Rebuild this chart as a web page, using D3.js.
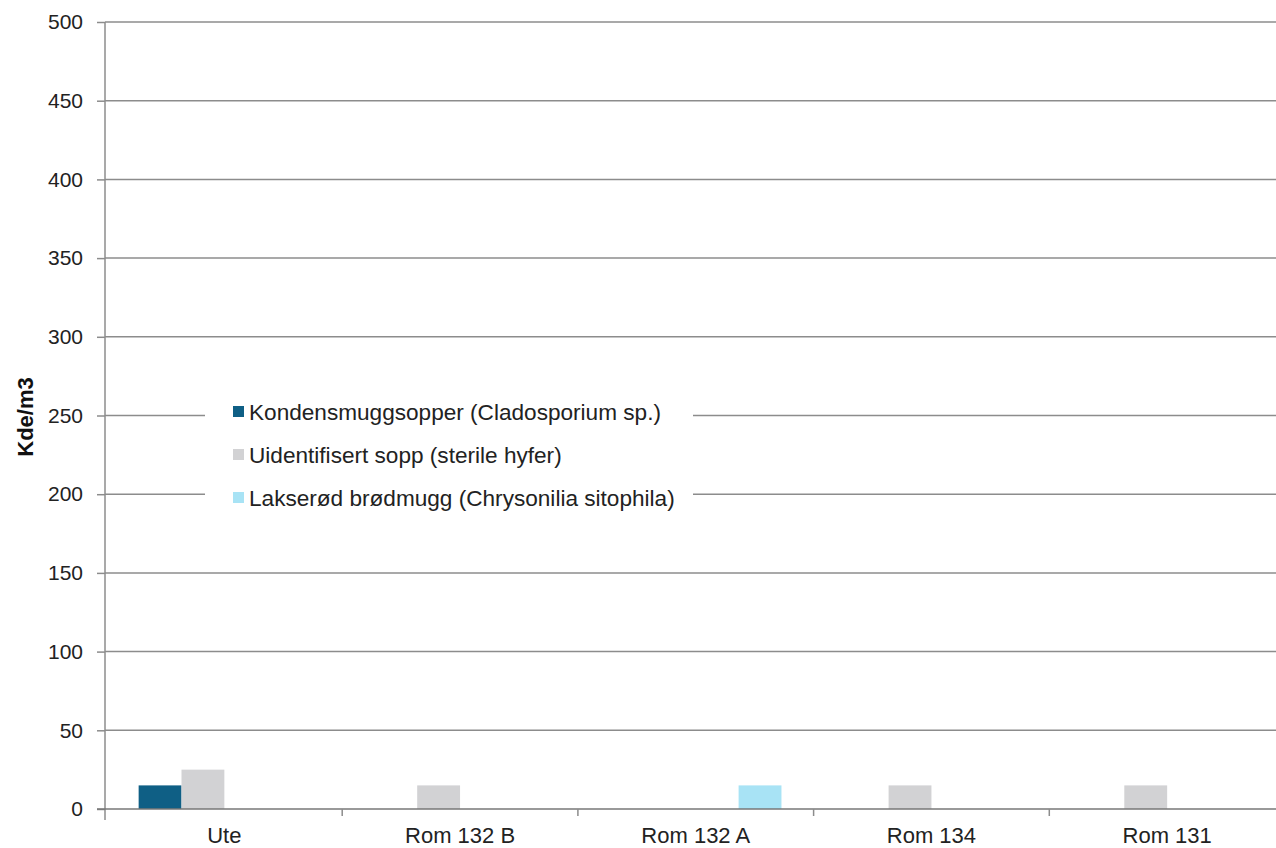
<!DOCTYPE html>
<html><head><meta charset="utf-8">
<script src="https://cdn.jsdelivr.net/npm/d3@7"></script>
<style>html,body{margin:0;padding:0;background:#fff;}svg{display:block;}</style>
</head><body>
<svg id="chart" width="1276" height="848"></svg>
<script>
const categories = ["Ute", "Rom 132 B", "Rom 132 A", "Rom 134", "Rom 131"];
const seriesNames = ["Kondensmuggsopper (Cladosporium sp.)", "Uidentifisert sopp (sterile hyfer)", "", "Lakserød brødmugg (Chrysonilia sitophila)"];
const seriesColors = ["#0f5f85", "#d2d2d4", "#bbbbbb", "#a8e3f5"];
const kondensValues = [15, 0, 0, 0, 0];
const uidentValues = [25, 15, 0, 15, 15];
const blankValues = [null, null, null, null, null];
const lakserodValues = [0, 0, 15, 0, 0];
const yTicks = [0, 50, 100, 150, 200, 250, 300, 350, 400, 450, 500];
const yLabel = "Kde/m3";

(function () {
const seriesValues = [kondensValues, uidentValues, blankValues, lakserodValues];
const svg = d3.select("#chart");
const font = "'Liberation Sans', Arial, sans-serif";

const pLeft = 105, pRight = 1285, pTop = 22, pBottom = 809;
const y = d3.scaleLinear().domain([0, 500]).range([pBottom, pTop]);
const x0 = d3.scaleBand().domain(categories).range([pLeft + 1.5, pRight]).paddingInner(0).paddingOuter(0);
// Excel-like gap: 4 series, gap width 150%
const bw = x0.bandwidth() / (seriesValues.length + 1.5);
const x1 = d3.scaleBand().domain(d3.range(seriesValues.length))
  .range([0, bw * seriesValues.length]).padding(0);
const groupOffset = (x0.bandwidth() - bw * seriesValues.length) / 2;

// gridlines
svg.append("g").selectAll("line").data(yTicks.filter(d => d > 0)).join("line")
  .attr("x1", pLeft).attr("x2", 1276)
  .attr("y1", d => y(d)).attr("y2", d => y(d))
  .attr("stroke", "#8c8c8c").attr("stroke-width", 1.5);

// y axis
const yAxis = d3.axisLeft(y).tickValues(yTicks).tickSize(8).tickPadding(14);
const gy = svg.append("g").attr("transform", `translate(${pLeft},0)`).call(yAxis);
gy.select(".domain").remove();
gy.selectAll(".tick line").attr("stroke", "#8c8c8c").attr("stroke-width", 1.5);
gy.selectAll(".tick text").attr("font-family", font).attr("font-size", 21).attr("fill", "#222");
svg.append("line").attr("x1", pLeft).attr("x2", pLeft).attr("y1", pTop).attr("y2", 820)
  .attr("stroke", "#8c8c8c").attr("stroke-width", 1.5);

// bars
const bars = svg.append("g");
seriesValues.forEach((vals, si) => {
  bars.selectAll(null).data(categories.map((c, i) => ({c, v: vals[i]})).filter(d => d.v))
    .join("rect")
    .attr("x", d => x0(d.c) + groupOffset + x1(si))
    .attr("width", x1.bandwidth())
    .attr("y", d => y(d.v))
    .attr("height", d => y(0) - y(d.v))
    .attr("fill", seriesColors[si]);
});

// x axis
const xAxis = d3.axisBottom(x0).tickSize(0).tickPadding(18);
const gx = svg.append("g").attr("transform", `translate(0,${pBottom})`).call(xAxis);
gx.select(".domain").remove();
gx.selectAll(".tick text").attr("font-family", font).attr("font-size", 22).attr("fill", "#222");
svg.append("line").attr("x1", pLeft - 8).attr("x2", 1276).attr("y1", pBottom).attr("y2", pBottom)
  .attr("stroke", "#777").attr("stroke-width", 1.5);
svg.append("g").selectAll("line").data(categories.slice(1)).join("line")
  .attr("x1", d => x0(d)).attr("x2", d => x0(d))
  .attr("y1", pBottom).attr("y2", pBottom + 7)
  .attr("stroke", "#8c8c8c").attr("stroke-width", 1.5);

// y label
svg.append("text").attr("transform", "translate(33,417) rotate(-90)")
  .attr("text-anchor", "middle").attr("font-family", font).attr("font-weight", "bold")
  .attr("font-size", 22).attr("fill", "#111").text(yLabel);

// legend
const lg = svg.append("g");
lg.append("rect").attr("x", 205).attr("y", 392).attr("width", 488).attr("height", 128).attr("fill", "#fff");
const legendItems = seriesNames.map((n, i) => ({n, i})).filter(d => d.n);
legendItems.forEach((d, k) => {
  const cy = 412 + k * 43;
  lg.append("rect").attr("x", 233).attr("y", cy - 6).attr("width", 11).attr("height", 11)
    .attr("fill", seriesColors[d.i]);
  lg.append("text").attr("x", 249).attr("y", cy).attr("dominant-baseline", "central")
    .attr("font-family", font).attr("font-size", 22.6).attr("fill", "#222").text(d.n);
});
})();
</script>
</body></html>
